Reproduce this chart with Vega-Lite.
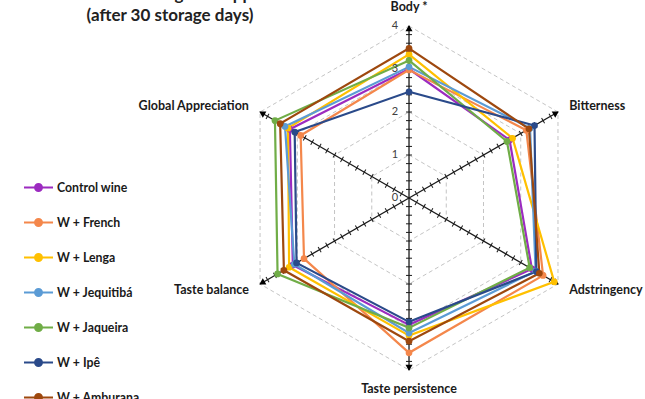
{
  "$schema": "https://vega.github.io/schema/vega-lite/v6.json",
  "width": 645,
  "height": 399,
  "autosize": {"type": "none"},
  "padding": 0,
  "background": "white",
  "title": {
    "text": ["Taste attributes and global appreciation", "(after 30 storage days)"],
    "anchor": "start",
    "frame": "group",
    "align": "center",
    "dx": 170,
    "dy": 42,
    "baseline": "alphabetic",
    "lineHeight": 21,
    "fontSize": 17,
    "font": "Lato",
    "fontWeight": "bold",
    "color": "#222222"
  },
  "datasets": {
    "attributes": [
      {"attribute": "Body *", "idx": 0},
      {"attribute": "Bitterness", "idx": 1},
      {"attribute": "Adstringency", "idx": 2},
      {"attribute": "Taste persistence", "idx": 3},
      {"attribute": "Taste balance", "idx": 4},
      {"attribute": "Global Appreciation", "idx": 5}
    ],
    "grid": [
      {"level": 1, "idx": [0, 1, 2, 3, 4, 5]},
      {"level": 2, "idx": [0, 1, 2, 3, 4, 5]},
      {"level": 3, "idx": [0, 1, 2, 3, 4, 5]},
      {"level": 4, "idx": [0, 1, 2, 3, 4, 5]}
    ],
    "levels": [{"level": 0}, {"level": 1}, {"level": 2}, {"level": 3}, {"level": 4}],
    "ticks": [
      {"idx": 0, "t": [0.2, 0.4, 0.6, 0.8, 1, 1.2, 1.4, 1.6, 1.8, 2, 2.2, 2.4, 2.6, 2.8, 3, 3.2, 3.4, 3.6, 3.8]},
      {"idx": 1, "t": [0.2, 0.4, 0.6, 0.8, 1, 1.2, 1.4, 1.6, 1.8, 2, 2.2, 2.4, 2.6, 2.8, 3, 3.2, 3.4, 3.6, 3.8]},
      {"idx": 2, "t": [0.2, 0.4, 0.6, 0.8, 1, 1.2, 1.4, 1.6, 1.8, 2, 2.2, 2.4, 2.6, 2.8, 3, 3.2, 3.4, 3.6, 3.8]},
      {"idx": 3, "t": [0.2, 0.4, 0.6, 0.8, 1, 1.2, 1.4, 1.6, 1.8, 2, 2.2, 2.4, 2.6, 2.8, 3, 3.2, 3.4, 3.6, 3.8]},
      {"idx": 4, "t": [0.2, 0.4, 0.6, 0.8, 1, 1.2, 1.4, 1.6, 1.8, 2, 2.2, 2.4, 2.6, 2.8, 3, 3.2, 3.4, 3.6, 3.8]},
      {"idx": 5, "t": [0.2, 0.4, 0.6, 0.8, 1, 1.2, 1.4, 1.6, 1.8, 2, 2.2, 2.4, 2.6, 2.8, 3, 3.2, 3.4, 3.6, 3.8]}
    ],
    "scores": [
      {"wine": "Control wine", "attribute": "Body *", "score": 3.0},
      {"wine": "Control wine", "attribute": "Bitterness", "score": 2.7},
      {"wine": "Control wine", "attribute": "Adstringency", "score": 3.3},
      {"wine": "Control wine", "attribute": "Taste persistence", "score": 2.95},
      {"wine": "Control wine", "attribute": "Taste balance", "score": 3.12},
      {"wine": "Control wine", "attribute": "Global Appreciation", "score": 3.2},
      {"wine": "W + French", "attribute": "Body *", "score": 2.98},
      {"wine": "W + French", "attribute": "Bitterness", "score": 3.15},
      {"wine": "W + French", "attribute": "Adstringency", "score": 3.6},
      {"wine": "W + French", "attribute": "Taste persistence", "score": 3.6},
      {"wine": "W + French", "attribute": "Taste balance", "score": 2.82},
      {"wine": "W + French", "attribute": "Global Appreciation", "score": 2.91},
      {"wine": "W + Lenga", "attribute": "Body *", "score": 3.34},
      {"wine": "W + Lenga", "attribute": "Bitterness", "score": 2.78},
      {"wine": "W + Lenga", "attribute": "Adstringency", "score": 3.9},
      {"wine": "W + Lenga", "attribute": "Taste persistence", "score": 3.2},
      {"wine": "W + Lenga", "attribute": "Taste balance", "score": 3.22},
      {"wine": "W + Lenga", "attribute": "Global Appreciation", "score": 3.25},
      {"wine": "W + Jequitibá", "attribute": "Body *", "score": 3.05},
      {"wine": "W + Jequitibá", "attribute": "Bitterness", "score": 3.25},
      {"wine": "W + Jequitibá", "attribute": "Adstringency", "score": 3.4},
      {"wine": "W + Jequitibá", "attribute": "Taste persistence", "score": 3.14},
      {"wine": "W + Jequitibá", "attribute": "Taste balance", "score": 3.08},
      {"wine": "W + Jequitibá", "attribute": "Global Appreciation", "score": 3.33},
      {"wine": "W + Jaqueira", "attribute": "Body *", "score": 3.2},
      {"wine": "W + Jaqueira", "attribute": "Bitterness", "score": 2.63},
      {"wine": "W + Jaqueira", "attribute": "Adstringency", "score": 3.24},
      {"wine": "W + Jaqueira", "attribute": "Taste persistence", "score": 3.02},
      {"wine": "W + Jaqueira", "attribute": "Taste balance", "score": 3.53},
      {"wine": "W + Jaqueira", "attribute": "Global Appreciation", "score": 3.6},
      {"wine": "W + Ipê", "attribute": "Body *", "score": 2.47},
      {"wine": "W + Ipê", "attribute": "Bitterness", "score": 3.37},
      {"wine": "W + Ipê", "attribute": "Adstringency", "score": 3.42},
      {"wine": "W + Ipê", "attribute": "Taste persistence", "score": 2.88},
      {"wine": "W + Ipê", "attribute": "Taste balance", "score": 3.02},
      {"wine": "W + Ipê", "attribute": "Global Appreciation", "score": 3.07},
      {"wine": "W + Amburana", "attribute": "Body *", "score": 3.48},
      {"wine": "W + Amburana", "attribute": "Bitterness", "score": 3.22},
      {"wine": "W + Amburana", "attribute": "Adstringency", "score": 3.5},
      {"wine": "W + Amburana", "attribute": "Taste persistence", "score": 3.33},
      {"wine": "W + Amburana", "attribute": "Taste balance", "score": 3.36},
      {"wine": "W + Amburana", "attribute": "Global Appreciation", "score": 3.46}
    ]
  },
  "encoding": {
    "x": {"field": "px", "type": "quantitative", "scale": {"domain": [-9.512, 5.488], "nice": false, "zero": false}, "axis": null},
    "y": {"field": "py", "type": "quantitative", "scale": {"domain": [-4.674, 4.605], "nice": false, "zero": false}, "axis": null}
  },
  "layer": [
    {
      "data": {"name": "grid"},
      "transform": [
        {"flatten": ["idx"]},
        {"calculate": "datum.level * sin(datum.idx * PI / 3)", "as": "px"},
        {"calculate": "datum.level * cos(datum.idx * PI / 3)", "as": "py"}
      ],
      "mark": {"type": "line", "interpolate": "linear-closed", "color": "#c4c4c4", "strokeDash": [4, 3], "strokeWidth": 1},
      "encoding": {"detail": {"field": "level", "type": "nominal"}, "order": {"field": "idx", "type": "quantitative"}}
    },
    {
      "data": {"name": "attributes"},
      "transform": [
        {"calculate": "0", "as": "px"},
        {"calculate": "0", "as": "py"},
        {"calculate": "4 * sin(datum.idx * PI / 3)", "as": "qx"},
        {"calculate": "4 * cos(datum.idx * PI / 3)", "as": "qy"}
      ],
      "mark": {"type": "rule", "color": "#1a1a1a", "strokeWidth": 1.3},
      "encoding": {"x2": {"field": "qx"}, "y2": {"field": "qy"}}
    },
    {
      "data": {"name": "ticks"},
      "transform": [
        {"flatten": ["t"]},
        {"calculate": "datum.t * sin(datum.idx * PI / 3)", "as": "px"},
        {"calculate": "datum.t * cos(datum.idx * PI / 3)", "as": "py"},
        {"calculate": "datum.idx * 60", "as": "deg"}
      ],
      "mark": {"type": "point", "shape": "stroke", "size": 36, "strokeWidth": 1, "color": "#1a1a1a", "filled": false, "opacity": 1},
      "encoding": {"angle": {"field": "deg", "type": "quantitative", "scale": null}}
    },
    {
      "data": {"name": "attributes"},
      "transform": [
        {"calculate": "3.95 * sin(datum.idx * PI / 3)", "as": "px"},
        {"calculate": "3.95 * cos(datum.idx * PI / 3)", "as": "py"},
        {"calculate": "datum.idx * 60", "as": "deg"}
      ],
      "mark": {"type": "point", "shape": "triangle-up", "size": 50, "filled": true, "color": "#000000", "opacity": 1},
      "encoding": {"angle": {"field": "deg", "type": "quantitative", "scale": null}}
    },
    {
      "data": {"name": "scores"},
      "transform": [
        {"lookup": "attribute", "from": {"data": {"name": "attributes"}, "key": "attribute", "fields": ["idx"]}},
        {"calculate": "datum.score * sin(datum.idx * PI / 3)", "as": "px"},
        {"calculate": "datum.score * cos(datum.idx * PI / 3)", "as": "py"}
      ],
      "mark": {"type": "line", "interpolate": "linear-closed", "strokeWidth": 2.2},
      "encoding": {
        "order": {"field": "idx", "type": "quantitative"},
        "color": {
          "field": "wine",
          "type": "nominal",
          "sort": null,
          "scale": {
            "domain": ["Control wine", "W + French", "W + Lenga", "W + Jequitibá", "W + Jaqueira", "W + Ipê", "W + Amburana"],
            "range": ["#9c2bc0", "#f4874b", "#ffc000", "#5b9bd5", "#70ad47", "#2a4a8a", "#9e480e"]
          },
          "legend": {
            "title": null,
            "orient": "none",
            "legendX": 23,
            "legendY": 172,
            "direction": "vertical",
            "padding": 0,
            "symbolType": "M-1,0L1,0M-0.24,0A0.24,0.24,0,1,1,0.24,0A0.24,0.24,0,1,1,-0.24,0Z",
            "symbolSize": 841,
            "symbolStrokeWidth": 2,
            "symbolOffset": 0,
            "labelFont": "Lato",
            "labelFontSize": 12.3,
            "labelFontWeight": "bold",
            "labelColor": "#1a1a1a",
            "labelOffset": 3,
            "labelLimit": 200,
            "rowPadding": 12,
            "encode": {
              "symbols": {
                "update": {
                  "fill": {"scale": "color", "field": "value"},
                  "stroke": {"scale": "color", "field": "value"}
                }
              }
            }
          }
        }
      }
    },
    {
      "data": {"name": "scores"},
      "transform": [
        {"lookup": "attribute", "from": {"data": {"name": "attributes"}, "key": "attribute", "fields": ["idx"]}},
        {"calculate": "datum.score * sin(datum.idx * PI / 3)", "as": "px"},
        {"calculate": "datum.score * cos(datum.idx * PI / 3)", "as": "py"}
      ],
      "mark": {"type": "point", "filled": true, "size": 45, "opacity": 1},
      "encoding": {
        "color": {"field": "wine", "type": "nominal", "legend": null}
      }
    },
    {
      "data": {"name": "levels"},
      "transform": [
        {"calculate": "0", "as": "px"},
        {"calculate": "datum.level", "as": "py"}
      ],
      "mark": {"type": "text", "align": "right", "baseline": "middle", "dx": -11, "fontSize": 11, "font": "Lato", "color": "#404040"},
      "encoding": {"text": {"field": "level", "type": "quantitative"}}
    },
    {
      "data": {"name": "attributes"},
      "transform": [
        {"filter": "datum.idx == 1 || datum.idx == 2"},
        {"calculate": "4.3 * sin(datum.idx * PI / 3)", "as": "px"},
        {"calculate": "4.3 * cos(datum.idx * PI / 3)", "as": "py"}
      ],
      "mark": {"type": "text", "align": "left", "baseline": "middle", "fontSize": 12.5, "font": "Lato", "fontWeight": "bold", "color": "#1a1a1a"},
      "encoding": {"text": {"field": "attribute"}}
    },
    {
      "data": {"name": "attributes"},
      "transform": [
        {"filter": "datum.idx == 4 || datum.idx == 5"},
        {"calculate": "4.3 * sin(datum.idx * PI / 3)", "as": "px"},
        {"calculate": "4.3 * cos(datum.idx * PI / 3)", "as": "py"}
      ],
      "mark": {"type": "text", "align": "right", "baseline": "middle", "fontSize": 12.5, "font": "Lato", "fontWeight": "bold", "color": "#1a1a1a"},
      "encoding": {"text": {"field": "attribute"}}
    },
    {
      "data": {"name": "attributes"},
      "transform": [
        {"filter": "datum.idx == 0 || datum.idx == 3"},
        {"calculate": "4.45 * sin(datum.idx * PI / 3)", "as": "px"},
        {"calculate": "4.45 * cos(datum.idx * PI / 3)", "as": "py"}
      ],
      "mark": {"type": "text", "align": "center", "baseline": "middle", "fontSize": 12.5, "font": "Lato", "fontWeight": "bold", "color": "#1a1a1a"},
      "encoding": {"text": {"field": "attribute"}}
    }
  ],
  "config": {"view": {"stroke": null}}
}
